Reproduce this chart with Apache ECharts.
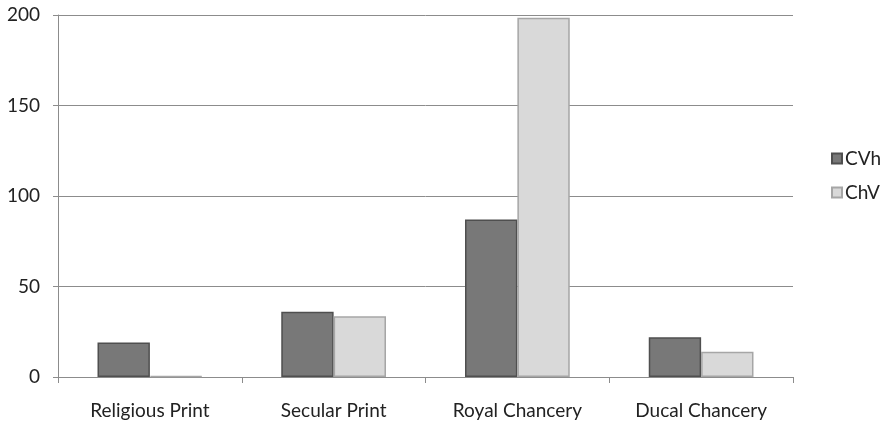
<!DOCTYPE html>
<html>
<head>
<meta charset="utf-8">
<script src="https://cdn.jsdelivr.net/npm/echarts@6/dist/echarts.min.js"></script>
<style>
  html, body { margin: 0; padding: 0; background: #fff; }
  #chart { width: 883px; height: 422px; }
</style>
</head>
<body>
<div id="chart"></div>
<script>
// Source groups and counts for the two spelling variants
const categories = ['Religious Print', 'Secular Print', 'Royal Chancery', 'Ducal Chancery'];
const cvhValues = [19, 36, 87, 22];
const chvValues = [0.5, 33.5, 198.5, 14];
const yTicks = { min: 0, max: 200, interval: 50 };

const font = 'Lato, "Open Sans", sans-serif';
const chart = echarts.init(document.getElementById('chart'));
chart.setOption({
  animation: false,
  grid: { left: 58, right: 90, top: 15, bottom: 45, containLabel: false },
  legend: {
    orient: 'vertical',
    left: 826,
    top: 144,
    itemWidth: 10,
    itemHeight: 10,
    itemGap: 15,
    icon: 'rect',
    textStyle: { fontFamily: font, fontSize: 19, color: '#222', padding: [0, 0, 0, -2] },
    data: ['CVh', 'ChV']
  },
  xAxis: {
    type: 'category',
    data: categories,
    axisLine: { lineStyle: { color: '#8c8c8c', width: 1 } },
    axisTick: { show: true, length: 6, lineStyle: { color: '#8c8c8c' } },
    axisLabel: { fontFamily: font, fontSize: 19, color: '#222', margin: 24 }
  },
  yAxis: {
    type: 'value',
    min: yTicks.min,
    max: yTicks.max,
    interval: yTicks.interval,
    axisLine: { show: true, lineStyle: { color: '#8c8c8c' } },
    axisTick: { show: true, length: 5, lineStyle: { color: '#8c8c8c' } },
    splitLine: { lineStyle: { color: '#8c8c8c', width: 1 } },
    axisLabel: { fontFamily: font, fontSize: 19, color: '#222', margin: 18 }
  },
  series: [
    {
      name: 'CVh',
      type: 'bar',
      data: cvhValues,
      barGap: '0%',
      barCategoryGap: '43%',
      itemStyle: { color: '#787878', borderColor: '#4f4f4f', borderWidth: 1.5 }
    },
    {
      name: 'ChV',
      type: 'bar',
      data: chvValues,
      itemStyle: { color: '#d9d9d9', borderColor: '#a6a6a6', borderWidth: 1.5 }
    }
  ]
});
</script>
</body>
</html>
